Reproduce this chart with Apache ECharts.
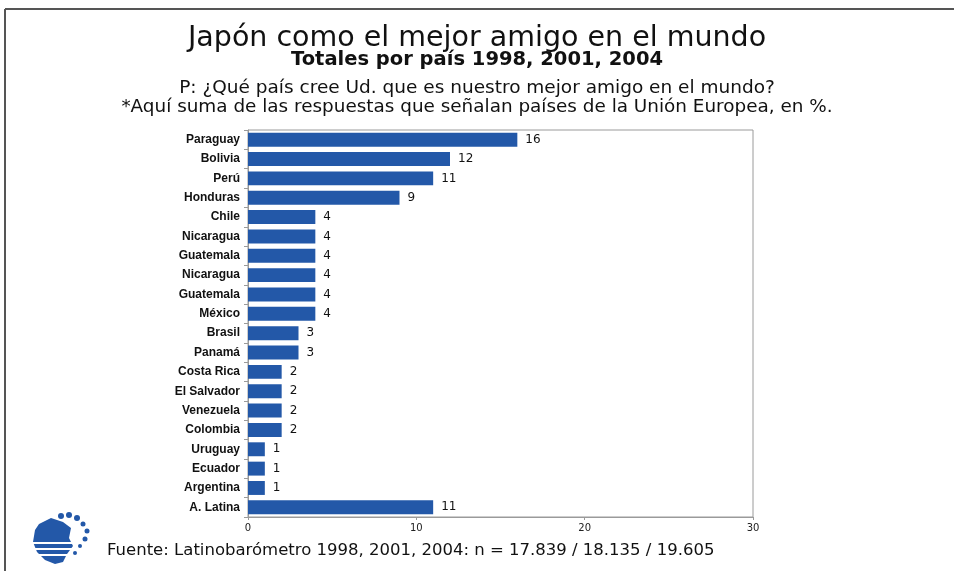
<!DOCTYPE html>
<html lang="es">
<head>
    <meta charset="UTF-8">
    <title>Japón como el mejor amigo en el mundo</title>
    <script src="https://cdn.jsdelivr.net/npm/echarts@6/dist/echarts.min.js"></script>
    <style>
        html, body { margin: 0; padding: 0; background: #fff; }
        #chart1 { width: 954px; height: 571px; }
    </style>
</head>
<body>
<div id="chart1"></div>
<script type="text/javascript">
    // datos
    var paises = ['Paraguay', 'Bolivia', 'Perú', 'Honduras', 'Chile', 'Nicaragua', 'Guatemala',
        'Nicaragua', 'Guatemala', 'México', 'Brasil', 'Panamá', 'Costa Rica', 'El Salvador',
        'Venezuela', 'Colombia', 'Uruguay', 'Ecuador', 'Argentina', 'A. Latina'];
    var valores = [16, 12, 11, 9, 4, 4, 4, 4, 4, 4, 3, 3, 2, 2, 2, 2, 1, 1, 1, 11];
    var ejeX = [0, 10, 20, 30];

    var fuente = '"DejaVu Sans", Verdana, sans-serif';
    var etiquetas = '"Liberation Sans", Arial, sans-serif';
    var azul = '#2358a8';

    // los nombres se repiten, asi que se usa el indice como categoria
    var indices = paises.map(function (p, i) { return String(i); });

    var myChart1 = echarts.init(document.getElementById('chart1'));
    myChart1.setOption({
        animation: false,
        backgroundColor: '#fff',
        title: [{
            text: 'Japón como el mejor amigo en el mundo',
            left: 'center', top: 19,
            textStyle: { fontFamily: fuente, fontSize: 28.5, fontWeight: 500, color: '#111' }
        }, {
            text: 'Totales por país 1998, 2001, 2004',
            left: 'center', top: 45,
            textStyle: { fontFamily: fuente, fontSize: 19.5, fontWeight: 'bold', color: '#111' }
        }, {
            text: 'P: ¿Qué país cree Ud. que es nuestro mejor amigo en el mundo?',
            left: 'center', top: 74,
            textStyle: { fontFamily: fuente, fontSize: 18.5, fontWeight: 'normal', color: '#111' }
        }, {
            text: '*Aquí suma de las respuestas que señalan países de la Unión Europea, en %.',
            left: 'center', top: 93,
            textStyle: { fontFamily: fuente, fontSize: 18.4, fontWeight: 'normal', color: '#111' }
        }, {
            text: 'Fuente: Latinobarómetro 1998, 2001, 2004: n = 17.839 / 18.135 / 19.605',
            left: 102, top: 537,
            textStyle: { fontFamily: fuente, fontSize: 16.5, fontWeight: 'normal', color: '#111' }
        }],
        grid: {
            left: 248, right: 201, top: 130, bottom: 54,
            show: true, borderColor: '#9a9a9a', borderWidth: 1
        },
        xAxis: {
            type: 'value',
            min: 0, max: 30, interval: 10,
            splitLine: { show: false },
            axisLine: { show: true, lineStyle: { color: '#9a9a9a' } },
            axisTick: { show: true, length: 3, lineStyle: { color: '#9a9a9a' } },
            axisLabel: {
                margin: 6, color: '#222', fontFamily: fuente, fontSize: 10,
                customValues: ejeX
            }
        },
        yAxis: {
            type: 'category',
            inverse: true,
            data: indices,
            axisLine: { show: true, lineStyle: { color: '#9a9a9a' } },
            axisTick: { show: true, length: 4, lineStyle: { color: '#9a9a9a' } },
            axisLabel: {
                margin: 8, color: '#111', fontFamily: etiquetas, fontSize: 12, fontWeight: 'bold',
                formatter: function (v) { return paises[+v]; }
            }
        },
        series: [{
            type: 'bar',
            data: valores,
            barCategoryGap: '28%',
            itemStyle: { color: azul },
            label: {
                show: true, position: 'right', distance: 8,
                color: '#111', fontFamily: fuente, fontSize: 12
            }
        }],
        graphic: [
            // marco de la pagina
            { type: 'line', shape: { x1: 5, y1: 9, x2: 954, y2: 9 }, style: { stroke: '#555', lineWidth: 2 } },
            { type: 'line', shape: { x1: 5, y1: 9, x2: 5, y2: 571 }, style: { stroke: '#555', lineWidth: 2 } },
            // logo aproximado
            {
                type: 'group', left: 33, top: 512,
                children: [
                    { type: 'polygon', shape: { points: [[6, 12], [18, 6], [30, 10], [38, 16], [36, 26], [40, 34], [34, 42], [30, 50], [22, 52], [12, 48], [4, 40], [0, 30], [2, 18]] },
                        style: { fill: azul } },
                    { type: 'rect', shape: { x: 0, y: 30, width: 42, height: 2 }, style: { fill: '#fff' } },
                    { type: 'rect', shape: { x: 0, y: 36, width: 42, height: 2 }, style: { fill: '#fff' } },
                    { type: 'rect', shape: { x: 0, y: 42, width: 42, height: 2 }, style: { fill: '#fff' } },
                    { type: 'circle', shape: { cx: 28, cy: 4, r: 3 }, style: { fill: azul } },
                    { type: 'circle', shape: { cx: 36, cy: 3, r: 3 }, style: { fill: azul } },
                    { type: 'circle', shape: { cx: 44, cy: 6, r: 3 }, style: { fill: azul } },
                    { type: 'circle', shape: { cx: 50, cy: 12, r: 2.5 }, style: { fill: azul } },
                    { type: 'circle', shape: { cx: 54, cy: 19, r: 2.5 }, style: { fill: azul } },
                    { type: 'circle', shape: { cx: 52, cy: 27, r: 2.5 }, style: { fill: azul } },
                    { type: 'circle', shape: { cx: 47, cy: 34, r: 2 }, style: { fill: azul } },
                    { type: 'circle', shape: { cx: 42, cy: 41, r: 2 }, style: { fill: azul } }
                ]
            }
        ]
    });
</script>
</body>
</html>
